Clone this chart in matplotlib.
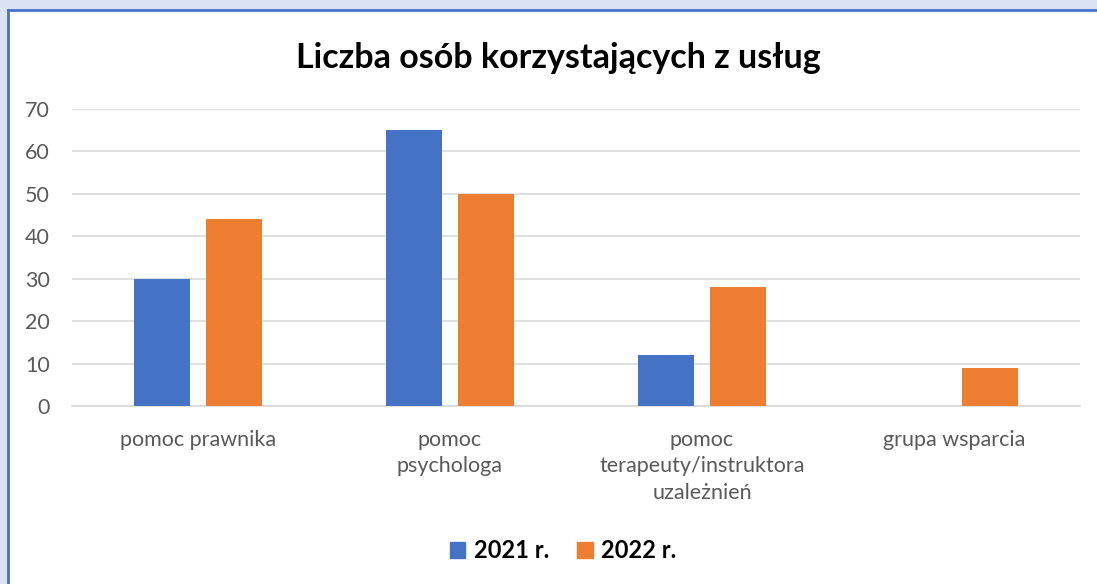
import numpy as np
import matplotlib.pyplot as plt
from matplotlib.patches import Rectangle, Patch
from matplotlib.lines import Line2D

# data
categories = ["pomoc prawnika", "pomoc\npsychologa",
              "pomoc\nterapeuty/instruktora\nuzależnień", "grupa wsparcia"]
series_names = ["2021 r.", "2022 r."]
vals_2021 = [30, 65, 12, 0]
vals_2022 = [44, 50, 28, 9]
yticks = [0, 10, 20, 30, 40, 50, 60, 70]

blue = "#4472c4"
orange = "#ed7d31"
txt = "#595959"
grid = "#d9d9d9"
bg = "#dae3f3"
font = "Lato"

W, H = 1097, 584
fig = plt.figure(figsize=(W / 100, H / 100), dpi=100, facecolor="white")

# light blue margin on top and left, blue frame line along the chart edge
fig.patches.append(Rectangle((0, 1 - 10 / H), 1, 10 / H,
                             transform=fig.transFigure, facecolor=bg,
                             edgecolor="none", zorder=-5))
fig.patches.append(Rectangle((0, 0), 8 / W, 1,
                             transform=fig.transFigure, facecolor=bg,
                             edgecolor="none", zorder=-5))
fig.lines.append(Line2D([8 / W, 1], [1 - 10 / H, 1 - 10 / H],
                        transform=fig.transFigure, color=blue, lw=2))
fig.lines.append(Line2D([8 / W, 8 / W], [0, 1 - 10 / H],
                        transform=fig.transFigure, color=blue, lw=2))

ax = fig.add_axes([72 / W, 178 / H, (1080 - 72) / W, (475 - 178) / H])
ax.set_facecolor("none")
ax.set_zorder(2)

x = np.arange(len(categories))
bw = 0.222
off = 0.143
ax.bar(x - off, vals_2021, bw, color=blue, zorder=3)
ax.bar(x + off, vals_2022, bw, color=orange, zorder=3)

ax.set_xlim(-0.5, len(categories) - 0.5)
ax.set_ylim(0, 70)
ax.set_yticks(yticks)
ax.set_yticklabels([str(v) for v in yticks], fontsize=15.5, color=txt, family=font)
ax.set_xticks(x)
ax.set_xticklabels(categories, fontsize=15.5, color=txt, family=font,
                   linespacing=1.42, va="top")
ax.tick_params(axis="both", length=0)
ax.tick_params(axis="x", pad=17)
ax.tick_params(axis="y", pad=16)

ax.grid(axis="y", color=grid, linewidth=1.2, zorder=0)
for s in ["top", "right", "left"]:
    ax.spines[s].set_visible(False)
ax.spines["bottom"].set_color(grid)
ax.spines["bottom"].set_linewidth(1.2)

fig.text(558 / W, 1 - 58 / H, "Liczba osób korzystających z usług",
         ha="center", va="center", fontsize=24.5, fontweight="bold",
         color="black", family=font)

handles = [Patch(color=blue), Patch(color=orange)]
leg = fig.legend(handles, series_names, loc="center",
                 bbox_to_anchor=(563 / W, 1 - 551 / H), ncol=2, frameon=False,
                 prop={"family": font, "weight": "bold", "size": 17},
                 handlelength=0.65, handleheight=0.65, handletextpad=0.35,
                 columnspacing=1.2)

fig.savefig("out.png", dpi=100, facecolor=fig.get_facecolor())
